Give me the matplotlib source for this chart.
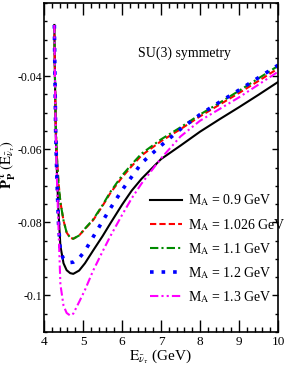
import matplotlib
matplotlib.use("Agg")
import matplotlib.pyplot as plt
from matplotlib.ticker import MultipleLocator

plt.rcParams['font.family'] = ['Liberation Serif', 'DejaVu Serif']
plt.rcParams['mathtext.fontset'] = 'stix'

energy = [4.265, 4.28, 4.30, 4.33, 4.37, 4.42, 4.5, 4.58, 4.67, 4.75, 4.9, 5.05,
          5.26, 5.5, 5.7, 6.0, 6.25, 6.5, 7.0, 7.5, 8.0, 8.5, 9.0, 9.5, 10.0]

pol_09 = [-0.026, -0.040, -0.055, -0.066, -0.077, -0.0865, -0.0912, -0.0931, -0.0939, -0.0941,
          -0.0932, -0.0912, -0.0877, -0.0838, -0.0803, -0.0752, -0.0713, -0.0681, -0.0627,
          -0.0590, -0.0552, -0.0518, -0.0485, -0.0451, -0.0416]
pol_1026 = [-0.026, -0.040, -0.053, -0.062, -0.069, -0.0745, -0.0795, -0.0828, -0.0842, -0.0845,
            -0.0836, -0.0818, -0.0794, -0.0755, -0.0720, -0.0677, -0.0646, -0.0617, -0.0578,
            -0.0545, -0.0510, -0.0478, -0.0446, -0.0413, -0.0379]
pol_11 = [-0.026, -0.040, -0.053, -0.062, -0.069, -0.0745, -0.0795, -0.0828, -0.0842, -0.0845,
          -0.0836, -0.0817, -0.0792, -0.0753, -0.0717, -0.0672, -0.0641, -0.0612, -0.0573,
          -0.0540, -0.0505, -0.0473, -0.0440, -0.0406, -0.0372]
pol_12 = [-0.026, -0.040, -0.056, -0.068, -0.080, -0.0880, -0.0900, -0.0907, -0.0910, -0.0909,
          -0.0898, -0.0878, -0.0840, -0.0797, -0.0762, -0.0712, -0.0675, -0.0638, -0.0590,
          -0.0545, -0.0505, -0.0471, -0.0438, -0.0404, -0.0370]
pol_13 = [-0.026, -0.040, -0.056, -0.068, -0.081, -0.0970, -0.1028, -0.1048, -0.1055, -0.1050,
          -0.1018, -0.0985, -0.0932, -0.0880, -0.0838, -0.0780, -0.0734, -0.0694, -0.0625,
          -0.0565, -0.0522, -0.0490, -0.0458, -0.0423, -0.0388]

labels = [r'M$_\mathrm{A}$ = 0.9 GeV', r'M$_\mathrm{A}$ = 1.026 GeV', r'M$_\mathrm{A}$ = 1.1 GeV',
          r'M$_\mathrm{A}$ = 1.2 GeV', r'M$_\mathrm{A}$ = 1.3 GeV']
xticks = [4, 5, 6, 7, 8, 9, 10]
yticks = [-0.1, -0.08, -0.06, -0.04]
ytick_labels = ['-0.1', '-0.08', '-0.06', '-0.04']

fig = plt.figure(figsize=(2.84, 3.82), dpi=100)
ax = fig.add_axes([0.155, 0.131, 0.824, 0.861])

ax.plot(energy, pol_09, color='black', lw=1.5, ls='-', label=labels[0])
ax.plot(energy, pol_1026, color='#ff0000', lw=1.5, ls=(0, (3, 1.5)), label=labels[1])
ax.plot(energy, pol_11, color='#008b00', lw=1.5, ls=(0, (4, 1.5, 1, 1.5)), label=labels[2])
ax.plot(energy, pol_12, color='#0000ff', lw=2.6, ls=(0, (1, 2.2)), label=labels[3])
ax.plot(energy, pol_13, color='#ff00ff', lw=1.5, ls=(0, (4, 1.5, 1, 1.5, 1, 1.5)), label=labels[4])

ax.set_xlim(4, 10)
ax.set_ylim(-0.11, -0.02)
ax.set_xticks(xticks)
ax.set_yticks(yticks)
ax.set_yticklabels(ytick_labels)
ax.xaxis.set_minor_locator(MultipleLocator(0.2))
ax.yaxis.set_minor_locator(MultipleLocator(0.005))
ax.tick_params(axis='both', which='both', direction='in', top=True, right=True, width=1.0)
ax.tick_params(axis='x', which='major', length=8.5, labelsize=9.5, pad=3)
ax.tick_params(axis='x', which='minor', length=3.6)
ax.tick_params(axis='y', which='major', length=4.3, labelsize=8.5, pad=1.5)
ax.tick_params(axis='y', which='minor', length=2.2)
for s in ax.spines.values():
    s.set_linewidth(1.2)

ax.set_xlabel(r'$\mathrm{E}_{\bar{\nu}_\tau}$ (GeV)', fontsize=11, labelpad=0)
fig.text(8.5 / 284, 1 - 164 / 382, r'$\mathbf{P_P^{\,\tau}}\ (\mathrm{E}_{\bar{\nu}_\tau})$',
         fontsize=10.5, rotation=90, ha='center', va='center')

ax.text(0.40, 0.848, 'SU(3) symmetry', transform=ax.transAxes, fontsize=10, va='center', ha='left')

ax.legend(loc='lower left', bbox_to_anchor=(0.43, 0.065), frameon=False, fontsize=10,
          handlelength=2.3, handletextpad=0.4, labelspacing=0.6, borderaxespad=0)

fig.savefig('out.png', dpi=100)
